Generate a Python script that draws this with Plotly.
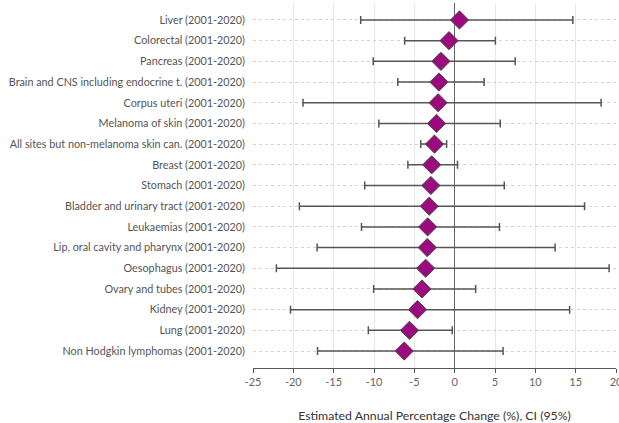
import plotly.graph_objects as go

categories = [
    "Liver (2001-2020)",
    "Colorectal (2001-2020)",
    "Pancreas (2001-2020)",
    "Brain and CNS including endocrine t. (2001-2020)",
    "Corpus uteri (2001-2020)",
    "Melanoma of skin (2001-2020)",
    "All sites but non-melanoma skin can. (2001-2020)",
    "Breast (2001-2020)",
    "Stomach (2001-2020)",
    "Bladder and urinary tract (2001-2020)",
    "Leukaemias (2001-2020)",
    "Lip, oral cavity and pharynx (2001-2020)",
    "Oesophagus (2001-2020)",
    "Ovary and tubes (2001-2020)",
    "Kidney (2001-2020)",
    "Lung (2001-2020)",
    "Non Hodgkin lymphomas (2001-2020)",
]
eapc = [0.6, -0.7, -1.7, -1.95, -2.05, -2.25, -2.5, -2.85, -2.95, -3.15, -3.35, -3.4, -3.6, -4.05, -4.6, -5.6, -6.25]
ci_low = [-11.65, -6.2, -10.1, -7.05, -18.8, -9.4, -4.2, -5.8, -11.15, -19.25, -11.55, -17.05, -22.1, -10.05, -20.35, -10.7, -17.0]
ci_high = [14.65, 5.05, 7.5, 3.65, 18.15, 5.65, -1.0, 0.35, 6.15, 16.1, 5.55, 12.45, 19.15, 2.6, 14.25, -0.3, 6.0]

x_ticks = [-25, -20, -15, -10, -5, 0, 5, 10, 15, 20]

err_plus = [h - c for h, c in zip(ci_high, eapc)]
err_minus = [c - l for c, l in zip(eapc, ci_low)]

fig = go.Figure()
fig.add_trace(go.Scatter(
    x=eapc,
    y=categories,
    mode="markers",
    marker=dict(symbol="diamond", size=14, color="#9c0a7f",
                line=dict(color="#4a4a4a", width=1)),
    error_x=dict(type="data", symmetric=False, array=err_plus, arrayminus=err_minus,
                 color="#555555", thickness=1.5, width=4),
    hoverinfo="x+y",
    showlegend=False,
    cliponaxis=False,
))

font_family = "Lato, 'Source Sans Pro', sans-serif"

fig.update_layout(
    width=619, height=423,
    margin=dict(l=253, r=3, t=3, b=55),
    paper_bgcolor="white",
    plot_bgcolor="white",
    font=dict(family=font_family, size=11, color="#555555"),
    xaxis=dict(
        range=[-25, 20],
        tickvals=x_ticks,
        ticktext=[str(v) for v in x_ticks],
        automargin=False,
        ticklabeloverflow="allow",
        showgrid=True, gridcolor="#e6e6e6", gridwidth=1,
        zeroline=True, zerolinecolor="#666666", zerolinewidth=1,
        showline=True, linecolor="#555555", linewidth=1,
        ticks="outside", ticklen=4, tickcolor="#555555",
        tickfont=dict(size=11, color="#666666"),
        title=dict(text="Estimated Annual Percentage Change (%), CI (95%)",
                   font=dict(size=12.3, color="#333333"), standoff=29),
    ),
    yaxis=dict(
        type="category",
        categoryorder="array", categoryarray=categories,
        range=[16.82, -0.82],
        automargin=False,
        showgrid=True, gridcolor="#d4d4d4", gridwidth=1, griddash="dot",
        showline=False, zeroline=False,
        ticks="", ticklabelstandoff=7,
        tickfont=dict(size=10.8, color="#555555"),
    ),
)

fig.write_html("out.html",
               config={"displayModeBar": False},
               post_script="document.body.style.margin='0';document.body.style.overflow='hidden';")
